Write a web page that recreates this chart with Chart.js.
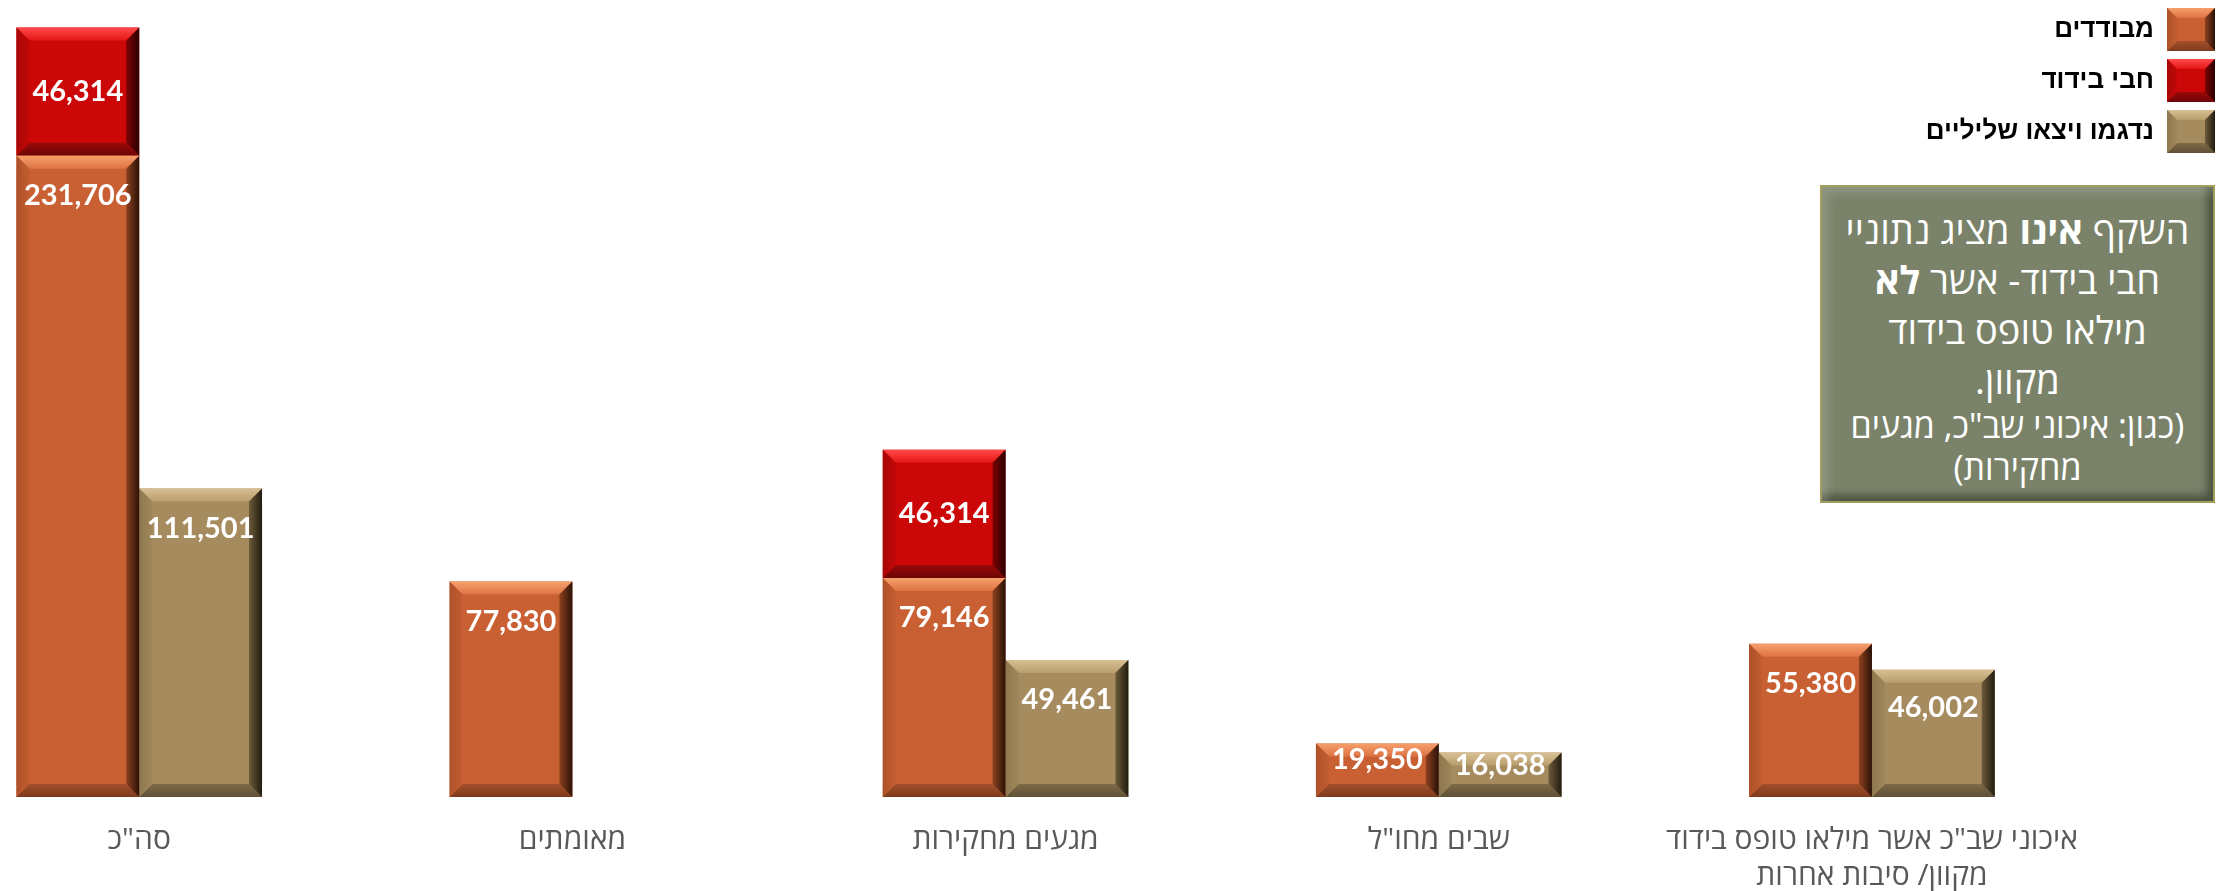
<!DOCTYPE html>
<html lang="he">
<head>
<meta charset="utf-8">
<script src="https://cdn.jsdelivr.net/npm/chart.js@4.4.1/dist/chart.umd.min.js"></script>
<style>
html,body{margin:0;padding:0;background:#fff;}
#wrap{position:relative;width:2228px;height:891px;overflow:hidden;}
#c{position:absolute;left:0;top:0;}
#note{position:absolute;left:1820px;top:185px;width:395px;height:318px;box-sizing:border-box;background:#7A836A;border:2px solid #A39E5C;
box-shadow: inset 9px 9px 8px -3px rgba(255,255,255,0.16), inset -9px -9px 8px -3px rgba(0,0,0,0.38);
direction:rtl;text-align:center;color:#fff;font-family:"Open Sans","Liberation Sans",sans-serif;padding-top:17px;white-space:nowrap;}
#note .big{font-size:38px;line-height:50px;}
#note .small{font-size:34px;line-height:42px;}
</style>
</head>
<body>
<div id="wrap">
<canvas id="c" width="2228" height="891"></canvas>
<div id="note"><div class="big">השקף <b>אינו</b> מציג נתוניי<br>חבי בידוד- אשר <b>לא</b><br>מילאו טופס בידוד<br>מקוון.</div><div class="small">(כגון: איכוני שב"כ, מגעים<br>מחקירות)</div></div>
</div>
<script>
const categories = ['סה"כ', 'מאומתים', 'מגעים מחקירות', 'שבים מחו"ל', ['איכוני שב"כ אשר מילאו טופס בידוד', 'מקוון/ סיבות אחרות']];
const seriesNames = ['מבודדים', 'חבי בידוד', 'נדגמו ויצאו שליליים'];
const isolated = [231706, 77830, 79146, 19350, 55380];
const hiddenIsolation = [46314, null, 46314, null, null];
const negativeTested = [111501, null, 49461, 16038, 46002];

const palettes = {
  orange: {base:'#C96033', top0:'#F7A06C', top1:'#DC7343', bot0:'#7E3B1D', bot1:'#A24F2A', left0:'#AE5129', left1:'#C35D31', right0:'#8E411F', right1:'#2A1207'},
  red:    {base:'#CC0707', top0:'#FF4A4A', top1:'#E41616', bot0:'#6E0505', bot1:'#9A0909', left0:'#A80707', left1:'#C20707', right0:'#7E0303', right1:'#2A0000'},
  tan:    {base:'#A68B5E', top0:'#D8C094', top1:'#B99D6C', bot0:'#5F5035', bot1:'#7E6A47', left0:'#8E774F', left1:'#A0865A', right0:'#6C5B3B', right1:'#221C10'}
};

function toPoints(arr){ return arr.map((v,i)=>({x:i, y:v})); }

function poly(ctx, pts, fill){
  ctx.beginPath(); ctx.moveTo(pts[0][0], pts[0][1]);
  for (let k=1;k<pts.length;k++) ctx.lineTo(pts[k][0], pts[k][1]);
  ctx.closePath(); ctx.fillStyle = fill; ctx.fill();
}
function drawBevel(ctx, l, t, r, b, pal, size){
  const bv = Math.min(size, (r-l)/3, (b-t)/3);
  let g = ctx.createLinearGradient(0,t,0,t+bv); g.addColorStop(0,pal.top0); g.addColorStop(1,pal.top1);
  poly(ctx, [[l,t],[r,t],[r-bv,t+bv],[l+bv,t+bv]], g);
  g = ctx.createLinearGradient(0,b-bv,0,b); g.addColorStop(0,pal.bot1); g.addColorStop(1,pal.bot0);
  poly(ctx, [[l,b],[r,b],[r-bv,b-bv],[l+bv,b-bv]], g);
  g = ctx.createLinearGradient(l,0,l+bv,0); g.addColorStop(0,pal.left0); g.addColorStop(1,pal.left1);
  poly(ctx, [[l,t],[l+bv,t+bv],[l+bv,b-bv],[l,b]], g);
  g = ctx.createLinearGradient(r-bv,0,r,0); g.addColorStop(0,pal.right0); g.addColorStop(1,pal.right1);
  poly(ctx, [[r,t],[r-bv,t+bv],[r-bv,b-bv],[r,b]], g);
}

const bevelPlugin = {
  id: 'bevel',
  afterDatasetDraw(chart, args){
    const meta = args.meta; const ds = chart.data.datasets[args.index];
    const pal = palettes[ds.paletteKey]; const ctx = chart.ctx;
    ctx.save();
    meta.data.forEach((el, i) => {
      if (ds.data[i].y == null) return;
      const p = el.getProps(['x','y','base','width'], true);
      const l = p.x - p.width/2, r = p.x + p.width/2;
      const t = Math.min(p.y, p.base), b = Math.max(p.y, p.base);
      drawBevel(ctx, l, t, r, b, pal, 13);
    });
    ctx.restore();
  },
  afterDraw(chart){
    const lg = chart.legend; if (!lg || !lg.legendHitBoxes) return;
    const ctx = chart.ctx; const bw = lg.options.labels.boxWidth, bh = lg.options.labels.boxHeight;
    ctx.save();
    lg.legendHitBoxes.forEach((hb, i) => {
      const ds = chart.data.datasets[i]; const pal = palettes[ds.paletteKey];
      const r = hb.left + hb.width, l = r - bw, t = hb.top, b = t + bh;
      ctx.fillStyle = pal.base; ctx.fillRect(l, t, bw, bh);
      drawBevel(ctx, l, t, r, b, pal, 10);
    });
    ctx.restore();
  }
};

const valueLabels = {
  id: 'valueLabels',
  afterDatasetsDraw(chart){
    const ctx = chart.ctx; ctx.save();
    ctx.font = 'bold 29px Lato, "Open Sans", sans-serif';
    ctx.fillStyle = '#ffffff'; ctx.textAlign = 'center'; ctx.textBaseline = 'middle';
    chart.data.datasets.forEach((ds, di) => {
      const meta = chart.getDatasetMeta(di);
      meta.data.forEach((el, i) => {
        const v = ds.data[i].y; if (v == null) return;
        const p = el.getProps(['x','y','base','width'], true);
        const top = Math.min(p.y, p.base), h = Math.abs(p.base - p.y);
        const cy = ds.labelAnchor === 'center' ? top + h/2 : top + Math.min(Math.max(h*0.3, 12), 40);
        ctx.fillText(v.toLocaleString('en-US'), p.x, cy);
      });
    });
    ctx.restore();
  }
};

const hebFont = '"Liberation Sans", Arial, "DejaVu Sans", sans-serif';

new Chart(document.getElementById('c'), {
  type: 'bar',
  data: {
    datasets: [
      {label: seriesNames[0], data: toPoints(isolated), stack: 'a', backgroundColor: palettes.orange.base, borderWidth: 0, clip: false, paletteKey: 'orange', labelAnchor: 'end'},
      {label: seriesNames[1], data: toPoints(hiddenIsolation), stack: 'a', backgroundColor: palettes.red.base, borderWidth: 0, clip: false, paletteKey: 'red', labelAnchor: 'center'},
      {label: seriesNames[2], data: toPoints(negativeTested), stack: 'b', backgroundColor: palettes.tan.base, borderWidth: 0, clip: false, paletteKey: 'tan', labelAnchor: 'end'}
    ]
  },
  options: {
    responsive: false,
    animation: false,
    events: [],
    layout: {padding: {top: 0, left: 0, right: 5, bottom: 0}},
    datasets: {bar: {categoryPercentage: 0.567, barPercentage: 1.0}},
    scales: {
      x: {
        type: 'linear', min: -0.3214, max: 4.1013, bounds: 'data', offset: false,
        grid: {display: false}, border: {display: false},
        afterBuildTicks: (s) => { s.ticks = categories.map((c, i) => ({value: i})); },
        afterFit: (s) => { s.height = 94; },
        ticks: {
          autoSkip: false, maxRotation: 0, minRotation: 0,
          padding: 18, color: '#595959',
          font: {family: '"Open Sans", ' + hebFont, size: 30, lineHeight: 1.18},
          callback: (v) => categories[v]
        }
      },
      y: {display: false, min: 0, max: 288000, stacked: true}
    },
    plugins: {
      tooltip: {enabled: false},
      legend: {
        position: 'right', align: 'start', rtl: true, textDirection: 'rtl',
        labels: {boxWidth: 48, boxHeight: 43, padding: 8, color: '#000000',
          font: {family: hebFont, size: 26, weight: 'bold'}}
      }
    }
  },
  plugins: [bevelPlugin, valueLabels]
});
</script>
</body>
</html>
